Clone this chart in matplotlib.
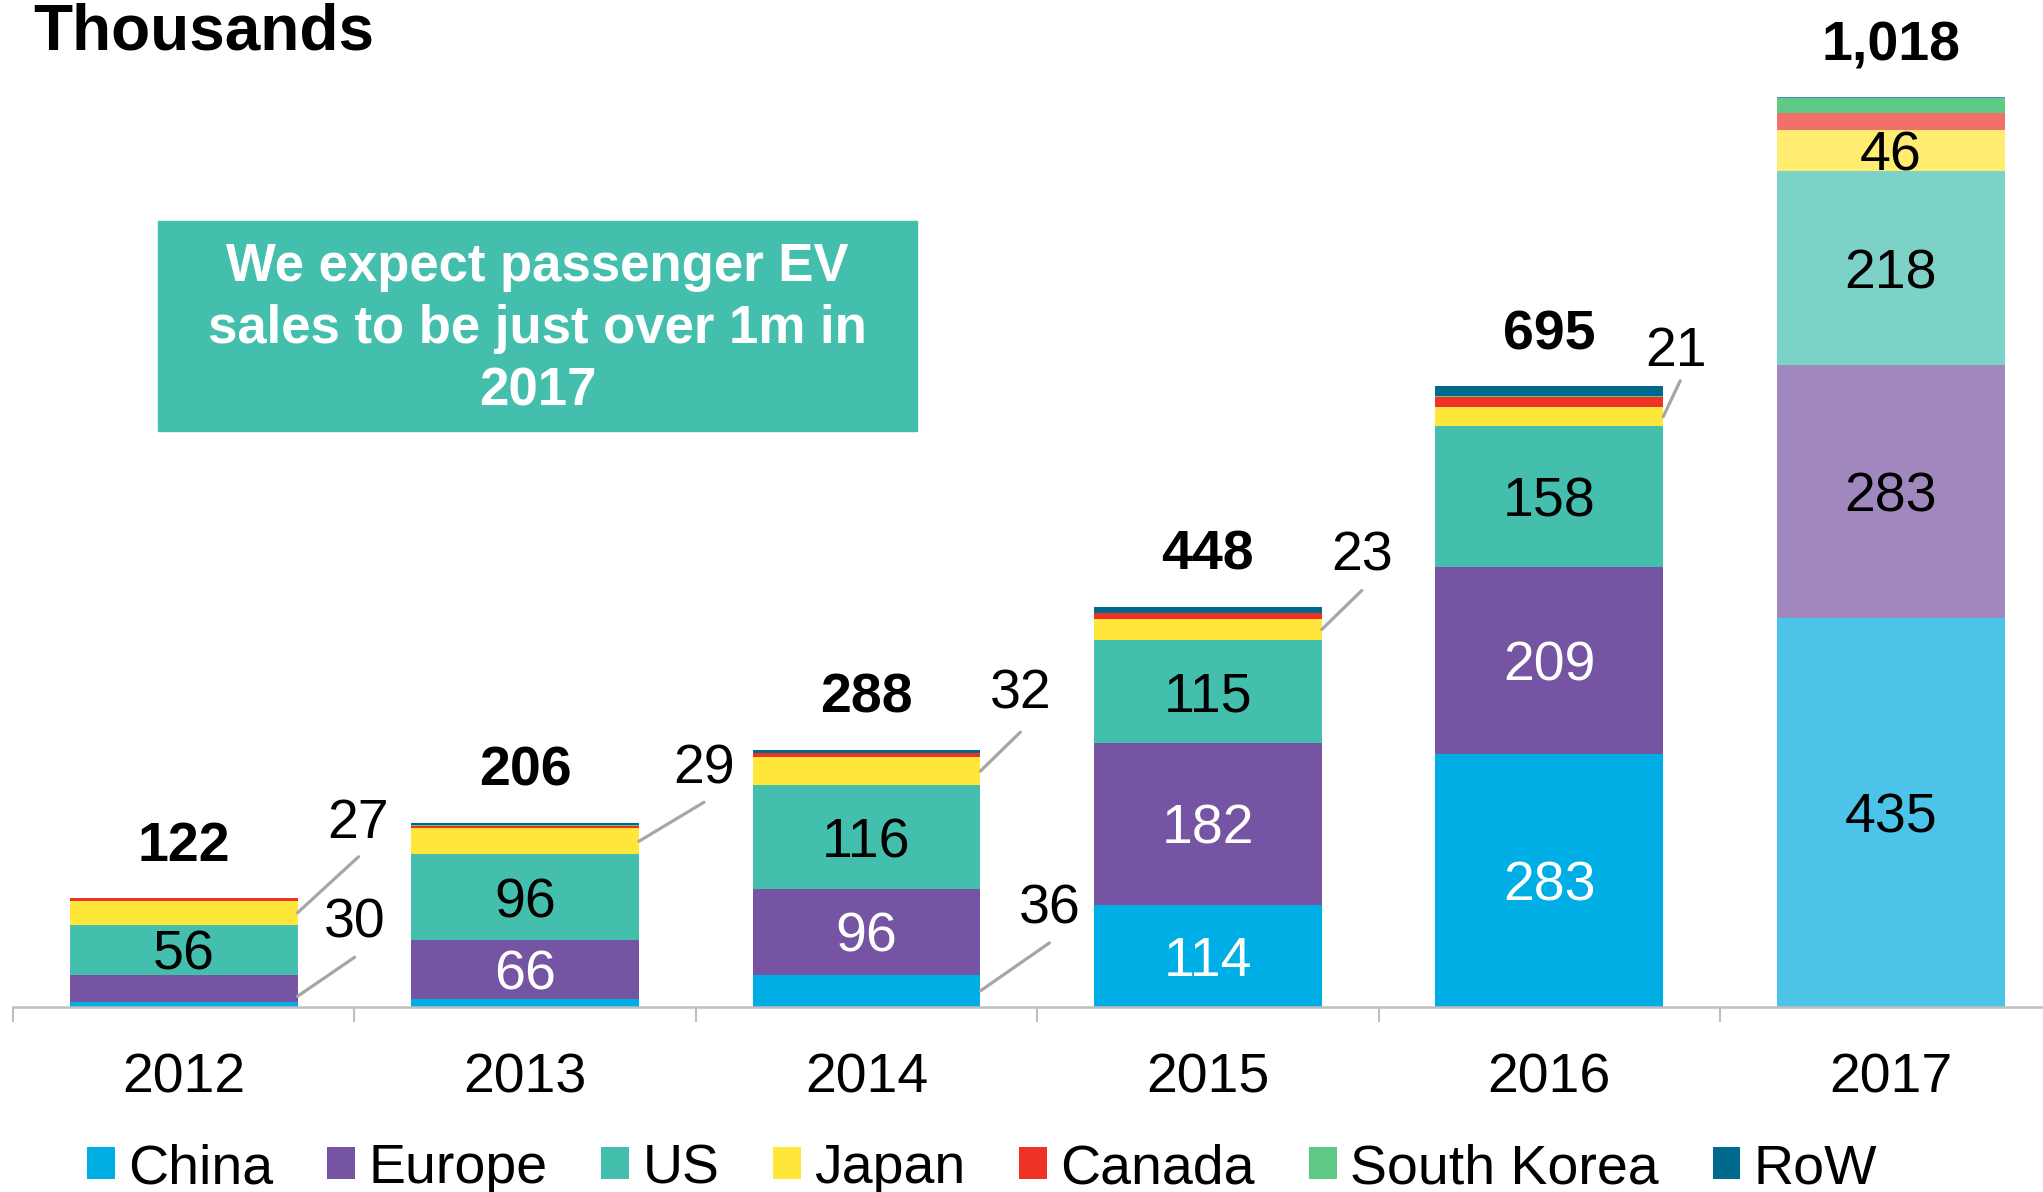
import matplotlib
matplotlib.use("Agg")
import matplotlib.pyplot as plt
from matplotlib.patches import Patch, Rectangle
import numpy as np

plt.rcParams['font.family'] = ['Liberation Sans', 'DejaVu Sans']

years = ["2012", "2013", "2014", "2015", "2016", "2017"]
series = ["China", "Europe", "US", "Japan", "Canada", "South Korea", "RoW"]
china = [6, 9, 36, 114, 283, 435]
europe = [30, 66, 96, 182, 209, 283]
us = [56, 96, 116, 115, 158, 218]
japan = [27, 29, 32, 23, 21, 46]
canada = [3, 3, 4, 7, 12, 19]
south_korea = [0, 1, 0, 0, 1, 16]
row = [0, 2, 4, 7, 11, 1]
totals = [122, 206, 288, 448, 695, 1018]
total_labels = ["122", "206", "288", "448", "695", "1,018"]

values = [china, europe, us, japan, canada, south_korea, row]
colors = ["#00AEE6", "#7654A4", "#44BFAD", "#FFE63B", "#EE3326", "#5DC985", "#006A8E"]
colors_2017 = ["#4CC4EA", "#A087BD", "#7CD2C7", "#FFEC71", "#F2706A", "#5FCA85", "#4F8FB5"]

# inside labels: (series index, year index, text color)
inside = [(0, 3, "white"), (0, 4, "white"), (0, 5, "black"),
          (1, 1, "white"), (1, 2, "white"), (1, 3, "white"), (1, 4, "white"), (1, 5, "black"),
          (2, 0, "black"), (2, 1, "black"), (2, 2, "black"), (2, 3, "black"), (2, 4, "black"), (2, 5, "black"),
          (3, 5, "black")]
# callouts: (year idx, series idx, frac within segment, line end offset px, label offset px)
callouts = [(0, 3, 0.5, (61, 56), (0, 39)),
            (0, 1, 0.2, (57, 39), (0, 40)),
            (1, 3, 0.5, (65, 39), (0, 39)),
            (2, 3, 0.5, (40, 39), (0, 44)),
            (2, 0, 0.5, (69, 48), (0, 39)),
            (3, 3, 0.5, (40, 39), (0, 40)),
            (4, 3, 0.5, (17, 36), (-4, 35))]

W, H = 2043, 1192
fig = plt.figure(figsize=(W / 100, H / 100), dpi=100)
ax = fig.add_axes([13 / W, 1 - 1007 / H, 1 - 13 / W, 1007 / H])

x = np.arange(len(years))
bw = 0.667
bottoms = np.zeros(len(years))
seg_bottoms = []
for si, vals in enumerate(values):
    cols = [colors[si]] * 5 + [colors_2017[si]]
    ax.bar(x, vals, bw, bottom=bottoms, color=cols, edgecolor="none", zorder=2)
    seg_bottoms.append(bottoms.copy())
    bottoms = bottoms + np.array(vals)

fs = 40
for si, yi, c in inside:
    v = values[si][yi]
    ax.text(x[yi], seg_bottoms[si][yi] + v / 2, str(v), ha="center", va="center_baseline",
            fontsize=fs, color=c, zorder=3)

for yi in range(len(years)):
    ax.annotate(total_labels[yi], xy=(x[yi], bottoms[yi]), xytext=(0, 57),
                textcoords="offset pixels", ha="center", va="center_baseline",
                fontsize=fs, fontweight="bold")

for yi, si, frac, (ex, ey), (lx, ly) in callouts:
    v = values[si][yi]
    xy = (x[yi] + bw / 2, seg_bottoms[si][yi] + v * frac)
    ax.annotate("", xy=xy, xytext=(ex, ey), textcoords="offset pixels",
                arrowprops=dict(arrowstyle="-", color="#A6A6A6", lw=2.3,
                                shrinkA=0, shrinkB=0))
    ax.annotate(str(v), xy=xy, xytext=(ex + lx, ey + ly), textcoords="offset pixels",
                ha="center", va="center_baseline", fontsize=fs)

ax.set_xlim(-0.5, 5.446)
ax.set_ylim(0, 1127)
for s in ["top", "right", "left"]:
    ax.spines[s].set_visible(False)
ax.spines["bottom"].set_color("#BFBFBF")
ax.spines["bottom"].set_linewidth(1.8)
ax.set_yticks([])
ax.set_xticks(x)
ax.set_xticklabels(years, fontsize=fs)
ax.tick_params(axis="x", which="major", length=0, pad=33)
ax.set_xticks(np.arange(-0.5, 5.5, 1.0), minor=True)
ax.tick_params(axis="x", which="minor", length=11, width=1.5, color="#BFBFBF")

fig.text(33 / W, 1 - 50 / H, "Thousands", fontsize=46, fontweight="bold", va="baseline", ha="left")

fig.patches.append(Rectangle((158 / W, 1 - 431 / H), 759 / W, 209.5 / H,
                             transform=fig.transFigure, color="#44BFAD", zorder=1))
fig.text(537.5 / W, 1 - 329 / H, "We expect passenger EV\nsales to be just over 1m in\n2017",
         ha="center", va="center", fontsize=38, fontweight="bold", color="white",
         linespacing=1.32, zorder=2)

handles = [Patch(facecolor=c, edgecolor="none") for c in colors]
fig.legend(handles, series, loc="center left", bbox_to_anchor=(87 / W, 1 - 1169 / H),
           ncol=7, frameon=False, fontsize=40, handlelength=0.5, handleheight=0.5,
           handletextpad=0.24, columnspacing=0.97, borderpad=0, borderaxespad=0)

fig.savefig("out.png", dpi=100)
